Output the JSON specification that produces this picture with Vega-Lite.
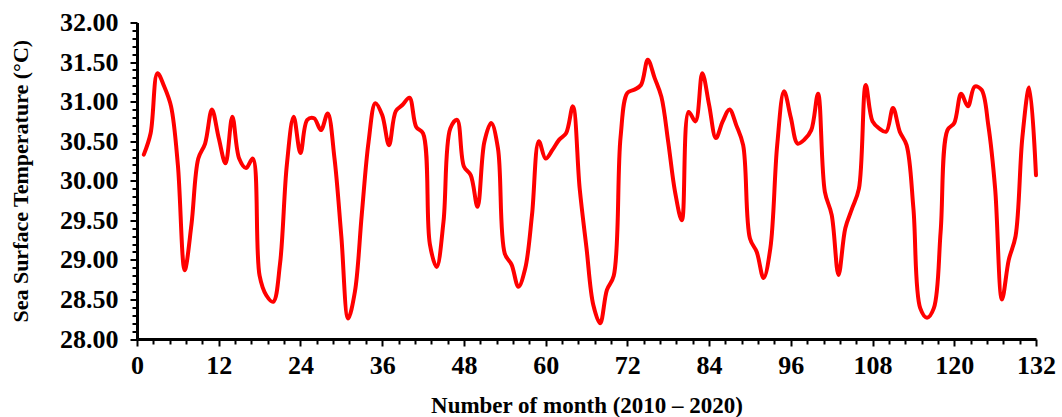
{
  "$schema": "https://vega.github.io/schema/vega-lite/v6.json",
  "autosize": {"type": "none"},
  "width": 899,
  "height": 316.5,
  "padding": {"left": 137, "top": 22.5, "right": 26, "bottom": 78},
  "background": "white",
  "config": {"view": {"stroke": null}},
  "data": {"values": [
    {"month": 1, "sst": 30.33}, {"month": 2, "sst": 30.60}, {"month": 3, "sst": 31.36}, {"month": 4, "sst": 31.19},
    {"month": 5, "sst": 30.94}, {"month": 6, "sst": 30.20}, {"month": 7, "sst": 28.87}, {"month": 8, "sst": 29.45},
    {"month": 9, "sst": 30.28}, {"month": 10, "sst": 30.47}, {"month": 11, "sst": 30.90}, {"month": 12, "sst": 30.54},
    {"month": 13, "sst": 30.22}, {"month": 14, "sst": 30.81}, {"month": 15, "sst": 30.28}, {"month": 16, "sst": 30.16},
    {"month": 17, "sst": 30.28}, {"month": 18, "sst": 28.80}, {"month": 19, "sst": 28.55}, {"month": 20, "sst": 28.47},
    {"month": 21, "sst": 28.95}, {"month": 22, "sst": 30.20}, {"month": 23, "sst": 30.81}, {"month": 24, "sst": 30.35},
    {"month": 25, "sst": 30.77}, {"month": 26, "sst": 30.79}, {"month": 27, "sst": 30.64}, {"month": 28, "sst": 30.85},
    {"month": 29, "sst": 30.28}, {"month": 30, "sst": 29.30}, {"month": 31, "sst": 28.26}, {"month": 32, "sst": 28.60},
    {"month": 33, "sst": 29.57}, {"month": 34, "sst": 30.49}, {"month": 35, "sst": 30.98}, {"month": 36, "sst": 30.83},
    {"month": 37, "sst": 30.45}, {"month": 38, "sst": 30.88}, {"month": 39, "sst": 30.96}, {"month": 40, "sst": 31.05},
    {"month": 41, "sst": 30.68}, {"month": 42, "sst": 30.60}, {"month": 43, "sst": 29.20}, {"month": 44, "sst": 28.91},
    {"month": 45, "sst": 29.48}, {"month": 46, "sst": 30.66}, {"month": 47, "sst": 30.77}, {"month": 48, "sst": 30.18},
    {"month": 49, "sst": 30.07}, {"month": 50, "sst": 29.67}, {"month": 51, "sst": 30.49}, {"month": 52, "sst": 30.73},
    {"month": 53, "sst": 30.41}, {"month": 54, "sst": 29.08}, {"month": 55, "sst": 28.94}, {"month": 56, "sst": 28.66},
    {"month": 57, "sst": 28.89}, {"month": 58, "sst": 29.57}, {"month": 59, "sst": 30.50}, {"month": 60, "sst": 30.28},
    {"month": 61, "sst": 30.39}, {"month": 62, "sst": 30.52}, {"month": 63, "sst": 30.60}, {"month": 64, "sst": 30.94},
    {"month": 65, "sst": 29.90}, {"month": 66, "sst": 29.15}, {"month": 67, "sst": 28.43}, {"month": 68, "sst": 28.20},
    {"month": 69, "sst": 28.62}, {"month": 70, "sst": 28.80}, {"month": 71, "sst": 30.55}, {"month": 72, "sst": 31.11},
    {"month": 73, "sst": 31.15}, {"month": 74, "sst": 31.21}, {"month": 75, "sst": 31.53}, {"month": 76, "sst": 31.30},
    {"month": 77, "sst": 31.06}, {"month": 78, "sst": 30.49}, {"month": 79, "sst": 29.86}, {"month": 80, "sst": 29.50},
    {"month": 81, "sst": 30.87}, {"month": 82, "sst": 30.75}, {"month": 83, "sst": 31.36}, {"month": 84, "sst": 30.96},
    {"month": 85, "sst": 30.54}, {"month": 86, "sst": 30.75}, {"month": 87, "sst": 30.90}, {"month": 88, "sst": 30.70},
    {"month": 89, "sst": 30.45}, {"month": 90, "sst": 29.27}, {"month": 91, "sst": 29.10}, {"month": 92, "sst": 28.77},
    {"month": 93, "sst": 29.15}, {"month": 94, "sst": 30.45}, {"month": 95, "sst": 31.13}, {"month": 96, "sst": 30.80},
    {"month": 97, "sst": 30.47}, {"month": 98, "sst": 30.52}, {"month": 99, "sst": 30.64}, {"month": 100, "sst": 31.10},
    {"month": 101, "sst": 29.86}, {"month": 102, "sst": 29.57}, {"month": 103, "sst": 28.81}, {"month": 104, "sst": 29.40},
    {"month": 105, "sst": 29.65}, {"month": 106, "sst": 29.90}, {"month": 107, "sst": 31.21}, {"month": 108, "sst": 30.75},
    {"month": 109, "sst": 30.66}, {"month": 110, "sst": 30.62}, {"month": 111, "sst": 30.92}, {"month": 112, "sst": 30.62},
    {"month": 113, "sst": 30.45}, {"month": 114, "sst": 29.65}, {"month": 115, "sst": 28.39}, {"month": 116, "sst": 28.27},
    {"month": 117, "sst": 28.39}, {"month": 118, "sst": 29.36}, {"month": 119, "sst": 30.64}, {"month": 120, "sst": 30.73},
    {"month": 121, "sst": 31.10}, {"month": 122, "sst": 30.94}, {"month": 123, "sst": 31.19}, {"month": 124, "sst": 31.15},
    {"month": 125, "sst": 30.70}, {"month": 126, "sst": 29.90}, {"month": 127, "sst": 28.50}, {"month": 128, "sst": 29.00},
    {"month": 129, "sst": 29.30}, {"month": 130, "sst": 30.55}, {"month": 131, "sst": 31.18}, {"month": 132, "sst": 30.07}
  ]},
  "mark": {"type": "line", "color": "#ff0000", "strokeWidth": 4, "interpolate": "catmull-rom", "strokeCap": "round", "strokeJoin": "round"},
  "encoding": {
    "x": {
      "field": "month", "type": "quantitative",
      "scale": {"domain": [0, 132], "nice": false, "zero": false},
      "axis": {
        "title": "Number of month (2010 – 2020)",
        "values": [0, 2.4, 4.8, 7.2, 9.6, 12, 14.4, 16.8, 19.2, 21.6, 24, 26.4, 28.8, 31.2, 33.6, 36, 38.4, 40.8, 43.2, 45.6, 48, 50.4, 52.8, 55.2, 57.6, 60, 62.4, 64.8, 67.2, 69.6, 72, 74.4, 76.8, 79.2, 81.6, 84, 86.4, 88.8, 91.2, 93.6, 96, 98.4, 100.8, 103.2, 105.6, 108, 110.4, 112.8, 115.2, 117.6, 120, 122.4, 124.8, 127.2, 129.6, 132],
        "labelExpr": "abs(round(datum.value*10) % 120) == 0 ? format(datum.value, 'd') : ''",
        "grid": false,
        "domainColor": "#000", "domainWidth": 3,
        "tickColor": "#000", "tickWidth": 2,
        "tickSize": {"condition": {"test": "abs(round(datum.value*10) % 120) == 0", "value": 7}, "value": 5},
        "labelFont": "Liberation Serif", "labelFontWeight": "bold", "labelFontSize": 26, "labelColor": "#000",
        "labelPadding": 6, "labelOverlap": false, "labelFlush": false,
        "titleFont": "Liberation Serif", "titleFontWeight": "bold", "titleFontSize": 23, "titleColor": "#000",
        "titlePadding": 16
      }
    },
    "y": {
      "field": "sst", "type": "quantitative",
      "scale": {"domain": [28, 32], "nice": false, "zero": false},
      "axis": {
        "title": "Sea Surface Temperature (°C)",
        "values": [28, 28.1, 28.2, 28.3, 28.4, 28.5, 28.6, 28.7, 28.8, 28.9, 29, 29.1, 29.2, 29.3, 29.4, 29.5, 29.6, 29.7, 29.8, 29.9, 30, 30.1, 30.2, 30.3, 30.4, 30.5, 30.6, 30.7, 30.8, 30.9, 31, 31.1, 31.2, 31.3, 31.4, 31.5, 31.6, 31.7, 31.8, 31.9, 32],
        "labelExpr": "abs(round(datum.value*10) % 5) == 0 ? format(datum.value, '.2f') : ''",
        "grid": false,
        "domainColor": "#000", "domainWidth": 3,
        "tickColor": "#000", "tickWidth": 2,
        "tickSize": {"condition": {"test": "abs(round(datum.value*10) % 5) == 0", "value": 7}, "value": 5},
        "labelFont": "Liberation Serif", "labelFontWeight": "bold", "labelFontSize": 26, "labelColor": "#000",
        "labelPadding": 12, "labelOverlap": false, "labelFlush": false,
        "titleFont": "Liberation Serif", "titleFontWeight": "bold", "titleFontSize": 22, "titleColor": "#000",
        "titlePadding": 27
      }
    }
  }
}
